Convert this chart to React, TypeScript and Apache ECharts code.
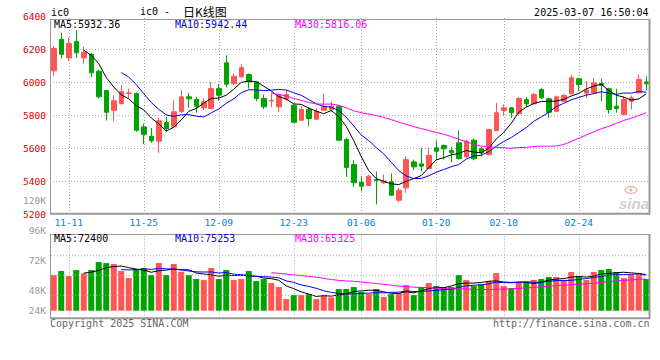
import React, { useEffect, useRef } from 'react';
import * as echarts from 'echarts';

const dates = [
  '11-07','11-08','11-11','11-12','11-13','11-14','11-15','11-18','11-19','11-20','11-21','11-22','11-25','11-26','11-27','11-28','11-29',
  '12-02','12-03','12-04','12-05','12-06','12-09','12-10','12-11','12-12','12-13','12-16','12-17','12-18','12-19','12-20','12-23','12-24','12-25','12-26','12-27','12-30','12-31',
  '01-02','01-03','01-06','01-07','01-08','01-09','01-10','01-13','01-14','01-15','01-16','01-17','01-20','01-21','01-22','01-23','01-24','01-27',
  '02-05','02-06','02-07','02-10','02-11','02-12','02-13','02-14','02-17','02-18','02-19','02-20','02-21','02-24','02-25','02-26','02-27','02-28',
  '03-03','03-04','03-05','03-06','03-07'
];

const opens = [
  6071,6262,6150,6250,6150,6172,6069,5951,5831,5872,
  5933,5933,5730,5673,5643,5757,5730,5822,5913,5897,
  5846,5842,5963,6120,5994,6035,6049,6004,5903,5887,
  5852,5898,5862,5771,5836,5777,5831,5836,5856,5653,
  5501,5393,5373,5410,5390,5396,5284,5359,5517,5505,
  5477,5603,5617,5586,5633,5548,5649,5597,5562,5708,
  5830,5846,5810,5897,5870,5957,5901,5825,5886,5931,
  6023,5935,5937,5994,5962,5856,5805,5886,5937,6004
];
const closes = [
  6207,6172,6237,6181,6183,6059,5913,5819,5889,5945,
  5937,5710,5685,5645,5767,5720,5822,5913,5901,5856,
  5883,5963,5923,5990,6038,6091,6004,5903,5852,5891,
  5923,5927,5758,5836,5781,5825,5852,5856,5649,5483,
  5390,5369,5430,5405,5400,5314,5345,5531,5487,5491,
  5556,5582,5597,5572,5537,5643,5536,5572,5714,5816,
  5846,5816,5903,5870,5927,5907,5819,5913,5921,6029,
  5988,5955,5998,5982,5836,5842,5897,5907,6018,5992
];
const lows = [
  6038,6146,6130,6150,6116,6032,5903,5769,5764,5866,
  5903,5700,5625,5633,5572,5700,5726,5816,5846,5816,
  5831,5838,5889,5970,5984,6030,5963,5886,5838,5852,
  5819,5889,5756,5769,5734,5775,5828,5822,5643,5426,
  5365,5338,5371,5258,5384,5312,5272,5329,5466,5460,
  5475,5536,5531,5515,5531,5542,5527,5551,5556,5704,
  5799,5785,5808,5850,5866,5901,5785,5819,5880,5929,
  5947,5905,5931,5886,5810,5816,5803,5836,5935,5953
];
const highs = [
  6221,6304,6274,6318,6217,6181,6079,5955,5923,5984,
  5963,5939,5750,5724,5787,5791,5892,5953,5937,5913,
  5903,6004,5990,6166,6055,6111,6055,6006,5927,5933,
  5933,5953,5868,5856,5852,5842,5933,5883,5862,5665,
  5527,5430,5440,5458,5440,5446,5359,5552,5531,5603,
  5603,5647,5623,5609,5708,5653,5659,5609,5718,5876,
  5866,5848,5913,5913,5937,5968,5907,5921,5931,6049,
  6024,6010,6029,6023,5968,5962,5917,5921,6049,6038
];
const volumes = [
  73500,81800,71400,83800,76900,83800,100300,98200,96200,81800,
  67300,85900,87900,73500,98200,73500,96200,80400,73500,65300,
  63200,87900,65300,83800,63200,65300,81800,61100,65300,57000,
  48800,24000,32300,32300,34400,24000,32300,27500,44700,44700,
  48800,38500,34400,44700,28200,34400,36400,52900,32300,48800,
  57000,50800,48800,48800,73500,63200,50800,55000,61100,77600,
  50800,46700,59100,59100,63200,65300,69400,69400,63200,79700,
  71400,63200,79700,83800,85900,79700,67300,73500,77600,65300
];

const xTickLabels = ['11-11','11-25','12-09','12-23','01-06','01-20','02-10','02-24'];
const priceGridLevels = [5400, 5600, 5800, 6000, 6200];
const volTickLabels = ['120K', '96K', '72K', '48K', '24K'];
const priceMaLabels = ['MA5:5932.36', 'MA10:5942.44', 'MA30:5816.06'];
const volMaLabels = ['MA5:72400', 'MA10:75253', 'MA30:65325'];
const maPeriods = [5, 10, 30];
const maColors = ['#000000', '#0000ee', '#ff00ff'];

const RED = '#ff5555';
const GREEN = '#00a400';
const MONO = '"DejaVu Sans Mono", "Liberation Mono", monospace';

function movingAverage(values: number[], n: number) {
  return values.map((_, i) => {
    if (i < n - 1) return '-';
    let s = 0;
    for (let k = i - n + 1; k <= i; k++) s += values[k];
    return +(s / n).toFixed(2);
  });
}

function txt(text: string, x: number, y: number, fill: string, align = 'left', size = 10, family = MONO, extra: any = {}) {
  return {
    type: 'text', silent: true, z: 10,
    style: { text, x, y, fill, fontSize: size, fontFamily: family, align, textAlign: align, verticalAlign: 'middle', textVerticalAlign: 'middle', ...extra },
  };
}
function ln(x1: number, y1: number, x2: number, y2: number, stroke: string, lineWidth = 1, dash?: number[]) {
  return { type: 'line', silent: true, z: 9, shape: { x1, y1, x2, y2 }, style: { stroke, lineWidth, lineDash: dash } };
}

export default function App() {
  const ref = useRef<HTMLDivElement>(null);
  useEffect(() => {
    const chart = echarts.init(ref.current!, null, { renderer: 'svg' });
    const candleData = dates.map((_, i) => [opens[i], closes[i], lows[i], highs[i]]);
    const volData = volumes.map((v, i) => ({
      value: v,
      itemStyle: { color: closes[i] >= opens[i] ? RED : GREEN },
    }));
    const gridLineStyle = { color: '#aaaaaa', width: 1, type: [1, 2] };
    const vLines = xTickLabels.map((d) => ({ xAxis: d }));

    const maSeries = maPeriods.map((p, k) => ({
      type: 'line', name: 'MA' + p, xAxisIndex: 0, yAxisIndex: 0,
      data: movingAverage(closes, p), showSymbol: false, symbol: 'none',
      lineStyle: { color: maColors[k], width: 1 }, z: 3, silent: true,
    }));
    const volMaSeries = maPeriods.map((p, k) => ({
      type: 'line', name: 'VMA' + p, xAxisIndex: 1, yAxisIndex: 1,
      data: movingAverage(volumes, p), showSymbol: false, symbol: 'none',
      lineStyle: { color: maColors[k], width: 1 }, z: 3, silent: true,
    }));

    const volLabelY = [200.7, 230, 260.7, 290.7, 310.7];
    const maX = [54, 175, 295];

    const graphic: any[] = [
      // main panel border
      ln(50, 19.5, 650, 19.5, '#999999', 1),
      ln(50.5, 19, 50.5, 214, '#999999', 1),
      ln(649.5, 19, 649.5, 214.5, '#999999', 2),
      ln(50, 213.8, 650, 213.8, '#999999', 2),
      // volume panel border
      ln(50, 234.5, 650, 234.5, '#999999', 1),
      ln(50.5, 234, 50.5, 318.5, '#999999', 1),
      ln(649.5, 234, 649.5, 318.5, '#999999', 2),
      ln(50, 318.3, 650, 318.3, '#999999', 2),
      // volume dotted grid
      ln(51, 255.7, 649, 255.7, '#aaaaaa', 1, [1, 2]),
      ln(51, 275.2, 649, 275.2, '#aaaaaa', 1, [1, 2]),
      ln(51, 295.2, 649, 295.2, '#aaaaaa', 1, [1, 2]),
      // header
      txt('ic0', 51, 12, '#000'),
      txt('ic0 -', 140, 11.5, '#000'),
      txt('日K线图', 183, 11, '#000', 'left', 12, '"Noto Sans CJK SC", sans-serif'),
      txt('2025-03-07 16:50:04', 648.5, 12, '#000', 'right'),
      txt('Copyright 2025 SINA.COM', 50, 323.5, '#666'),
      txt('http://finance.sina.com.cn', 649.5, 323.5, '#666', 'right'),
      // sina watermark
      { type: 'ellipse', silent: true, z: 1, shape: { cx: 631, cy: 190, rx: 6, ry: 3.5 }, style: { fill: 'none', stroke: '#f0b4b4', lineWidth: 1.5 } },
      { type: 'circle', silent: true, z: 1, shape: { cx: 631, cy: 190, r: 1.6 }, style: { fill: '#f0b4b4' } },
      txt('sina', 634, 203, '#cfcfcf', 'center', 15, 'Arial, "Liberation Sans", sans-serif', { fontStyle: 'italic', fontWeight: 'bold' }),
    ];
    volTickLabels.forEach((t, i) => graphic.push(txt(t, 46, volLabelY[i], '#999999', 'right', 9.5)));
    priceMaLabels.forEach((t, i) => graphic.push(txt(t, maX[i], 24, maColors[i])));
    volMaLabels.forEach((t, i) => graphic.push(txt(t, maX[i], 238.5, maColors[i])));

    chart.setOption({
      animation: false,
      backgroundColor: '#ffffff',
      grid: [
        { left: 50, right: 10, top: 16.8, height: 197.2 },
        { left: 50, right: 10, top: 234.3, height: 84 },
      ],
      xAxis: [
        {
          type: 'category', gridIndex: 0, data: dates, boundaryGap: true,
          axisLine: { show: false }, axisTick: { show: false }, splitLine: { show: false },
          axisLabel: {
            interval: (_i: number, v: string) => xTickLabels.includes(v),
            color: '#0a80d0', fontFamily: MONO, fontSize: 9.5, margin: 3,
          },
        },
        {
          type: 'category', gridIndex: 1, data: dates, boundaryGap: true,
          axisLine: { show: false }, axisTick: { show: false }, axisLabel: { show: false }, splitLine: { show: false },
        },
      ],
      yAxis: [
        {
          type: 'value', gridIndex: 0, min: 5200, max: 6400, interval: 200, scale: true,
          axisLine: { show: false }, axisTick: { show: false }, splitLine: { show: false },
          axisLabel: { color: '#dd0000', fontFamily: MONO, fontSize: 9.5, margin: 4, formatter: (v: number) => String(v) },
        },
        {
          type: 'value', gridIndex: 1, min: -15600, max: 157500,
          axisLine: { show: false }, axisTick: { show: false }, splitLine: { show: false }, axisLabel: { show: false },
        },
      ],
      graphic,
      series: [
        {
          type: 'candlestick', name: 'K', xAxisIndex: 0, yAxisIndex: 0, data: candleData,
          barWidth: 5, silent: true,
          itemStyle: { color: RED, color0: GREEN, borderColor: RED, borderColor0: GREEN, borderColorDoji: RED, borderWidth: 1 },
          markLine: {
            silent: true, z: 1, symbol: ['none', 'none'], label: { show: false },
            lineStyle: gridLineStyle, animation: false,
            data: [...priceGridLevels.map((v) => ({ yAxis: v })), ...vLines],
          },
        },
        ...maSeries,
        {
          type: 'bar', name: 'VOL', xAxisIndex: 1, yAxisIndex: 1, data: volData, barWidth: 6, silent: true,
          markLine: {
            silent: true, z: 1, symbol: ['none', 'none'], label: { show: false },
            lineStyle: gridLineStyle, animation: false,
            data: vLines,
          },
        },
        ...volMaSeries,
      ],
    });
    return () => chart.dispose();
  }, []);
  return (
    <div
      ref={ref}
      style={{ position: 'fixed', left: 0, top: 0, width: 660, height: 360, background: '#fff' }}
    />
  );
}
